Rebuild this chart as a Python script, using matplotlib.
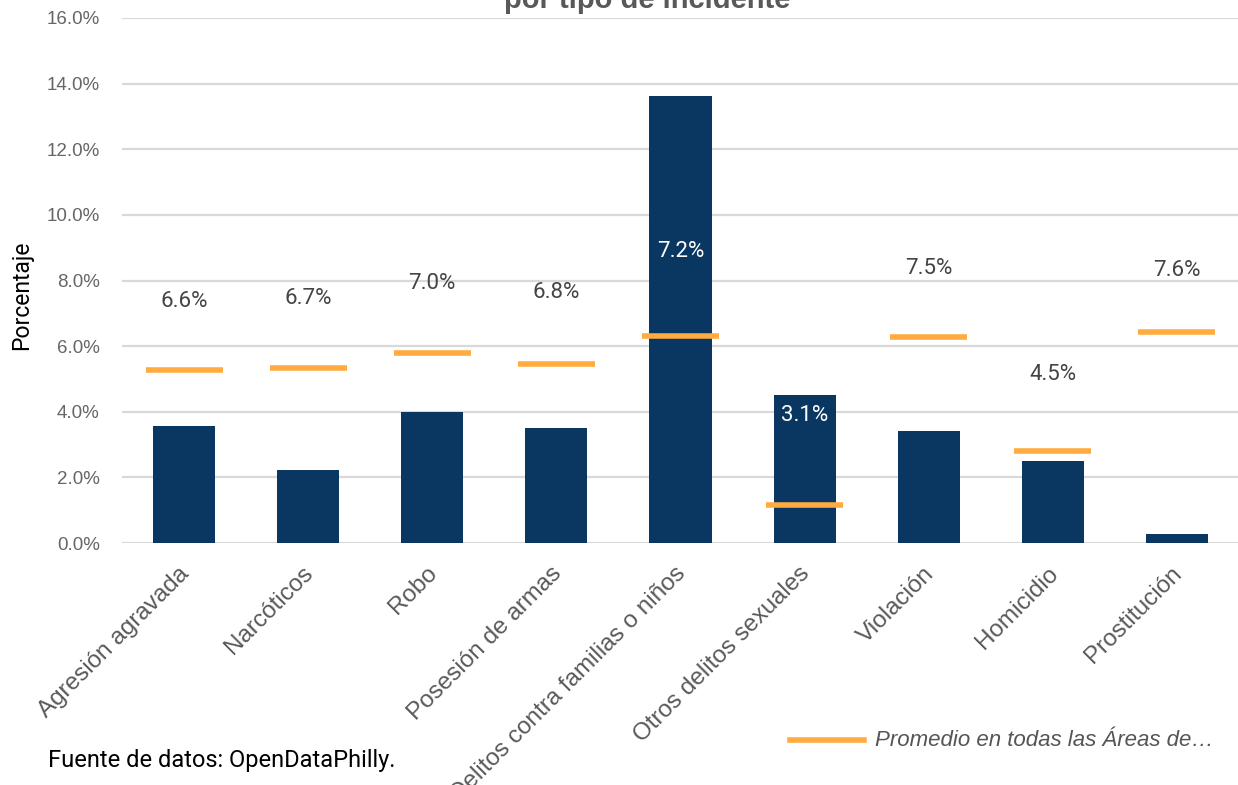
import matplotlib
matplotlib.use("Agg")
import matplotlib.pyplot as plt
import matplotlib.transforms as mtrans
from matplotlib.ticker import FuncFormatter
from matplotlib.lines import Line2D

categories = ["Agresión agravada", "Narcóticos", "Robo", "Posesión de armas",
              "Delitos contra familias o niños", "Otros delitos sexuales",
              "Violación", "Homicidio", "Prostitución"]
area_pct = [3.57, 2.22, 3.99, 3.50, 13.62, 4.51, 3.41, 2.50, 0.28]
avg_pct = [5.27, 5.33, 5.79, 5.47, 6.31, 1.15, 6.28, 2.80, 6.43]
label_text = ["6.6%", "6.7%", "7.0%", "6.8%", "7.2%", "3.1%", "7.5%", "4.5%", "7.6%"]
label_y = [7.35, 7.44, 7.92, 7.62, 8.87, 3.90, 8.38, 5.15, 8.29]
label_inside = [False, False, False, False, True, True, False, False, False]
yticks = [0, 2, 4, 6, 8, 10, 12, 14, 16]

BAR = "#0a3761"
ORANGE = "#ffab40"
W, H = 1238, 785

fig = plt.figure(figsize=(W / 100, H / 100), dpi=100)
ax = fig.add_axes([122 / W, 242 / H, (1239 - 122) / W, 525 / H])

x = list(range(len(categories)))
ax.bar(x, area_pct, width=0.5, color=BAR, zorder=2)
for xi, v in zip(x, avg_pct):
    ax.plot([xi - 0.31, xi + 0.31], [v, v], color=ORANGE, lw=4, solid_capstyle="butt", zorder=3)
for xi, t, y, ins in zip(x, label_text, label_y, label_inside):
    ax.text(xi, y, t, ha="center", va="center", fontsize=16, family="Roboto",
            color="white" if ins else "#444444", zorder=4)

ax.set_xlim(-0.5, 8.5)
ax.set_ylim(0, 16)
ax.set_yticks(yticks)
ax.yaxis.set_major_formatter(FuncFormatter(lambda v, p: f"{v:.1f}%"))
ax.grid(axis="y", color="#d9d9d9", lw=1.6, zorder=0)
ax.set_axisbelow(True)
for s in ax.spines.values():
    s.set_visible(False)
ax.tick_params(axis="both", length=0)
ax.tick_params(axis="y", labelsize=13.5, labelcolor="#666666", pad=16)
for lab in ax.get_yticklabels():
    lab.set_family("Liberation Sans")
ax.set_xticks(x)
ax.set_xticklabels(categories, rotation=45, ha="right", rotation_mode="anchor",
                   fontsize=17.5, color="#595959", family="Liberation Sans")
ax.tick_params(axis="x", pad=14)
offset = mtrans.ScaledTranslation(-6 / 100, 0, fig.dpi_scale_trans)
for lab in ax.get_xticklabels():
    lab.set_transform(lab.get_transform() + offset)
ax.set_ylabel("Porcentaje", fontsize=16.5, family="Roboto", color="black")
ax.yaxis.set_label_coords((33 - 122) / 1117, (543 - 295) / 525)

fig.text(647 / W, 1 - 8 / H, "por tipo de incidente", ha="center", va="baseline",
         fontsize=21, fontweight="bold", color="#595959", family="Liberation Sans")

fig.text(48 / W, 1 - 760 / H, "Fuente de datos: OpenDataPhilly.", ha="left", va="center",
         fontsize=17, family="Roboto", color="black")

fig.add_artist(Line2D([790 / W, 864 / W], [1 - 740 / H, 1 - 740 / H], color=ORANGE, lw=4))
fig.text(875 / W, 1 - 740 / H, "Promedio en todas las Áreas de…", ha="left", va="center",
         fontsize=16, style="italic", family="Liberation Sans", color="#555555")

fig.savefig("out.png", dpi=100)
